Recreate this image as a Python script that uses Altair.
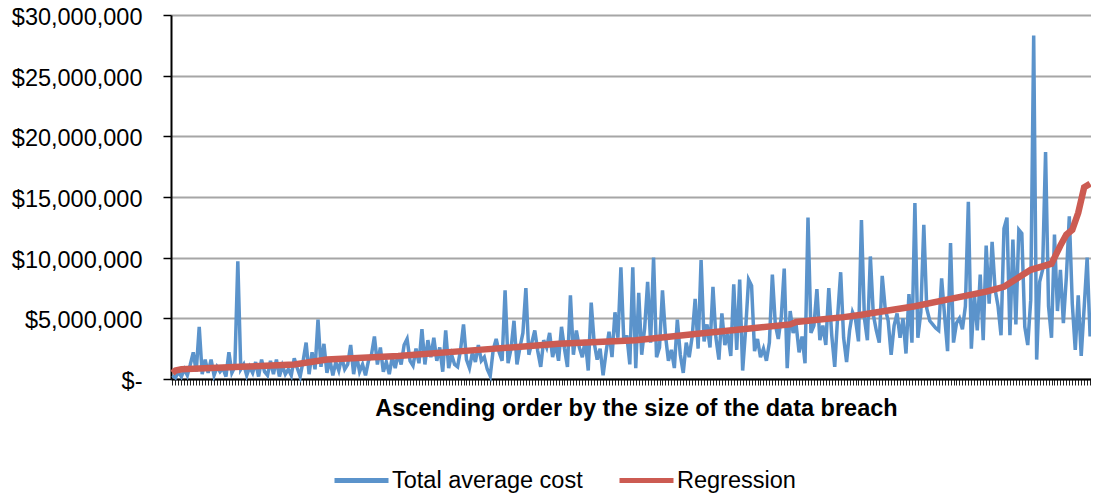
import altair as alt
import pandas as pd

# Total average cost per breach (millions of $), in ascending breach-size order
BLUE = [
    0.3, 0.1, 0.6, 0.2, 0.8, 0.3, 1.2, 2.2, 0.6, 4.3, 0.4, 1.6, 0.5, 1.6, 0.3, 1.0, 0.6, 0.9, 0.2, 2.2, 0.5, 1.0, 9.7, 0.8,
    1.2, 0.3, 1.0, 0.5, 1.4, 0.2, 1.6, 0.6, 0.3, 1.5, 0.4, 1.6, 0.2, 1.1, 0.4, 0.8, 0.3, 1.7, 0.9, 0.2, 1.5, 3.0, 0.4, 2.2, 0.8, 4.9,
    1.0, 2.9, 0.5, 1.6, 0.3, 1.4, 0.7, 1.8, 0.8, 1.2, 2.8, 0.4, 1.9, 0.6, 1.2, 0.3, 1.5, 2.0, 3.5, 1.2, 2.6, 0.6, 1.4, 0.4, 1.8, 0.9,
    2.1, 1.2, 2.8, 3.3, 1.5, 1.1, 2.5, 1.3, 4.1, 1.2, 3.2, 1.8, 3.4, 1.5, 2.6, 0.6, 4.0, 0.9, 2.0, 1.2, 1.0, 2.4, 4.5, 1.6, 0.9, 2.2, 1.4,
    2.8, 1.5, 1.8, 0.8, 0.25, 2.4, 3.3, 2.2, 1.5, 7.3, 1.3, 2.5, 4.8, 1.2, 2.6, 3.8, 7.5, 2.0, 3.0, 4.0, 2.3, 1.0, 3.2, 2.6, 3.8, 1.8, 2.9,
    1.5, 4.3, 2.5, 1.0, 6.9, 2.0, 4.0, 2.6, 1.8, 3.2, 0.7, 6.3, 3.0, 1.6, 2.5, 0.3, 2.2, 3.9, 1.8, 5.5, 3.4, 9.2, 3.0, 3.6, 1.2, 9.2,
    0.9, 7.1, 2.0, 4.2, 8.0, 3.0, 10.0, 1.8, 2.6, 7.3, 3.6, 1.5, 2.4, 0.9, 4.9, 2.0, 0.5, 3.0, 1.8, 3.5, 6.6, 2.5, 9.8, 3.1, 4.5, 2.6, 7.6,
    3.4, 1.6, 5.4, 2.8, 3.7, 1.9, 7.8, 2.4, 8.2, 0.7, 4.1, 8.2, 7.7, 2.3, 3.3, 1.8, 2.5, 1.5, 3.0, 8.6, 4.5, 3.3, 5.1, 9.1, 0.9, 5.6, 3.8,
    4.5, 2.2, 3.5, 1.3, 13.3, 3.8, 4.4, 7.4, 3.2, 4.4, 2.8, 7.5, 3.6, 1.0, 5.2, 8.8, 3.4, 1.4, 4.0, 5.5, 4.9, 3.1, 13.1, 5.0, 3.2, 10.1,
    5.3, 4.0, 3.0, 8.5, 5.8, 4.8, 2.0, 4.4, 5.4, 3.4, 5.0, 2.1, 7.0, 3.0, 14.5, 3.4, 5.5, 12.7, 5.8, 4.8, 4.5, 4.2, 4.0, 8.3, 5.2, 2.3, 11.2,
    3.0, 4.6, 5.0, 4.1, 6.0, 14.6, 2.5, 7.0, 4.0, 8.6, 3.2, 11.0, 6.2, 11.3, 7.4, 6.0, 3.6, 12.4, 13.3, 3.6, 11.5, 4.5, 12.3, 12.0, 4.3, 2.8, 6.5,
    28.3, 1.6, 8.0, 9.0, 18.7, 6.0, 3.4, 11.9, 5.6, 9.0, 4.6, 8.4, 13.4, 6.2, 2.4, 6.9, 1.9, 5.9, 10.0, 3.5,
]

# Regression curve (millions of $) read at these category positions
REG_IDX = [0, 1, 3, 23, 41, 52, 76, 103, 130, 156, 176, 196, 208, 210, 226, 232,
           250, 262, 274, 280, 289, 296, 299, 301, 303, 305, 307, 309]
REG_VAL = [0.5, 0.7, 0.8, 1.0, 1.2, 1.6, 1.9, 2.4, 2.9, 3.2, 3.7, 4.2, 4.5, 4.7, 5.1, 5.3,
           6.0, 6.6, 7.2, 7.6, 9.0, 9.5, 11.0, 11.9, 12.3, 13.7, 15.8, 16.1]

SERIES = ["Total average cost", "Regression"]
COLORS = ["#5B93CB", "#CC5B52"]
Y_TICKS = [0, 5000000, 10000000, 15000000, 20000000, 25000000, 30000000]
X_TITLE = "Ascending order by the size of the data breach"
FONT = "Liberation Sans"

n = len(BLUE)
df_b = pd.DataFrame({"idx": list(range(n)), "value": [v * 1e6 for v in BLUE], "series": SERIES[0]})
df_r = pd.DataFrame({"idx": REG_IDX, "value": [v * 1e6 for v in REG_VAL], "series": SERIES[1]})

x = alt.X(
    "idx:Q",
    scale=alt.Scale(domain=[-0.5, n - 0.7], nice=False, zero=False),
    axis=alt.Axis(
        values=list(range(n)), labels=False, grid=False, title=X_TITLE,
        titleFont=FONT, titleFontSize=23.5, titleFontWeight="bold", titleColor="black",
        titlePadding=11, titleX=465, tickColor="#222222", tickSize=6, tickWidth=1,
        domainColor="black", domainWidth=2,
    ),
)
y = alt.Y(
    "value:Q",
    scale=alt.Scale(domain=[0, 30000000], nice=False),
    axis=alt.Axis(
        values=Y_TICKS, title=None,
        labelExpr="datum.value == 0 ? '$-\u00a0\u00a0' : '$' + format(datum.value, ',')",
        labelFont=FONT, labelFontSize=23.5, labelColor="black", labelPadding=21,
        labelOffset=2.5,
        tickSize=8, tickColor="black", tickWidth=1.5, domainColor="black", domainWidth=2,
        gridColor="#a6a6a6", gridWidth=2,
    ),
)
color = alt.Color(
    "series:N",
    scale=alt.Scale(domain=SERIES, range=COLORS),
    legend=alt.Legend(
        title=None, orient="none", legendX=161, legendY=436, direction="horizontal",
        symbolType="stroke", symbolSize=2916, symbolStrokeWidth=5,
        labelFont=FONT, labelFontSize=23.5, labelColor="black", labelOffset=1,
        labelLimit=0, columnPadding=26, padding=0,
    ),
)

blue = alt.Chart(df_b).mark_line(strokeWidth=3.5).encode(x=x, y=y, color=color)
red = alt.Chart(df_r).mark_line(strokeWidth=6.5).encode(x=x, y=y, color=color)

chart = (
    alt.layer(blue, red)
    .properties(
        width=920, height=364,
        padding={"left": 163, "top": 7, "right": 0, "bottom": 114},
        autosize=alt.AutoSizeParams(type="none"),
    )
    .configure_view(stroke=None)
)

chart.save("out.html", embed_options={"renderer": "svg", "actions": False})
